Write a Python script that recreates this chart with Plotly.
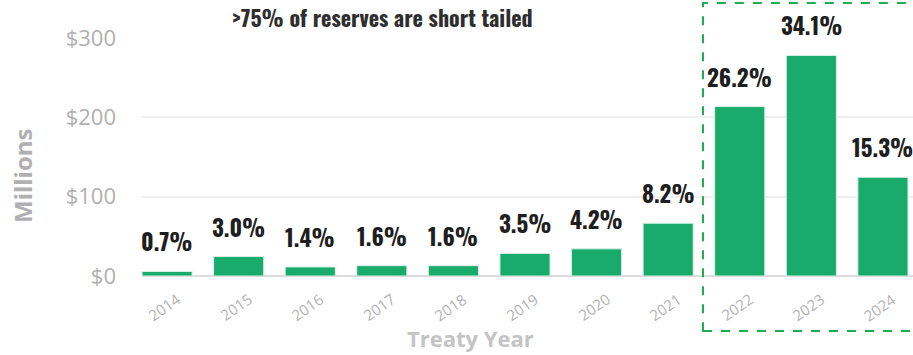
import plotly.graph_objects as go

years = ["2014", "2015", "2016", "2017", "2018", "2019", "2020", "2021", "2022", "2023", "2024"]
reserves_m = [5.7, 24.5, 11.4, 13.0, 13.0, 28.5, 34.2, 66.5, 213.5, 278.0, 124.5]
share_labels = ["0.7%", "3.0%", "1.4%", "1.6%", "1.6%", "3.5%", "4.2%", "8.2%", "26.2%", "34.1%", "15.3%"]
y_ticks = [0, 100, 200, 300]
y_tick_text = ["$0", "$100", "$200", "$300"]
title_text = ">75% of reserves are short tailed"

label_font = "Oswald, 'Liberation Sans Narrow', 'DejaVu Sans Condensed', Arial Narrow, sans-serif"
body_font = "Open Sans, sans-serif"

xs = list(range(len(years)))

fig = go.Figure()
fig.add_trace(go.Bar(
    x=xs,
    y=reserves_m,
    marker=dict(color="#18ab6b", line=dict(color="#d8f0e3", width=1)),
    width=0.70,
    hoverinfo="skip",
    cliponaxis=False,
))

# percentage labels above bars
for xi, v, lab in zip(xs, reserves_m, share_labels):
    fig.add_annotation(x=xi, y=v, xref="x", yref="y", text=lab, showarrow=False,
                       xanchor="center", yanchor="bottom", yshift=11,
                       font=dict(family=label_font, size=23, color="#1e1e1e", weight="bold"))

# rotated category labels
for xi, yr in zip(xs, years):
    fig.add_annotation(x=xi, y=0, xref="x", yref="y", text=yr, showarrow=False,
                       xanchor="center", yanchor="middle", xshift=-3, yshift=-31,
                       textangle=-35,
                       font=dict(family=body_font, size=15, color="#b3b3b3"))

# highlight box
fig.add_shape(type="rect", xref="paper", yref="paper", x0=0.7276, x1=1.02, y0=-0.231, y1=1.147,
              line=dict(color="#1fac4e", width=2, dash="dash"), fillcolor="rgba(0,0,0,0)")

fig.add_annotation(text=title_text, xref="paper", yref="paper", x=0.114, y=1.088,
                   xanchor="left", yanchor="middle", showarrow=False,
                   font=dict(family=label_font, size=22, color="#2e2e2e", weight="bold"))

fig.add_annotation(text="Treaty Year", xref="paper", yref="paper", x=(470 - 142) / 771, y=-0.26,
                   xanchor="center", yanchor="middle", showarrow=False,
                   font=dict(family=body_font, size=22, color="#c4c4c4", weight="bold"))

fig.add_annotation(text="Millions", xref="paper", yref="paper", x=(23 - 142) / 771, y=(276 - 176) / 238,
                   xanchor="center", yanchor="middle", showarrow=False, textangle=-90,
                   font=dict(family=body_font, size=24, color="#b0b0b0", weight="bold"))

fig.update_layout(
    width=913, height=355,
    margin=dict(l=142, r=0, t=38, b=79),
    plot_bgcolor="white", paper_bgcolor="white",
    showlegend=False,
    xaxis=dict(
        range=[-0.35, 10.42],
        showticklabels=False,
        showgrid=False, zeroline=False, showline=False, ticks="",
    ),
    yaxis=dict(
        range=[0, 300],
        tickmode="array", tickvals=y_ticks, ticktext=y_tick_text,
        tickfont=dict(family=body_font, size=22, color="#b0b0b0"),
        showgrid=True, gridcolor="#efefef", gridwidth=2,
        zeroline=True, zerolinecolor="#dcdcdc", zerolinewidth=2,
        ticks="", ticklabelstandoff=25,
    ),
)

fig.write_html("out.html")
